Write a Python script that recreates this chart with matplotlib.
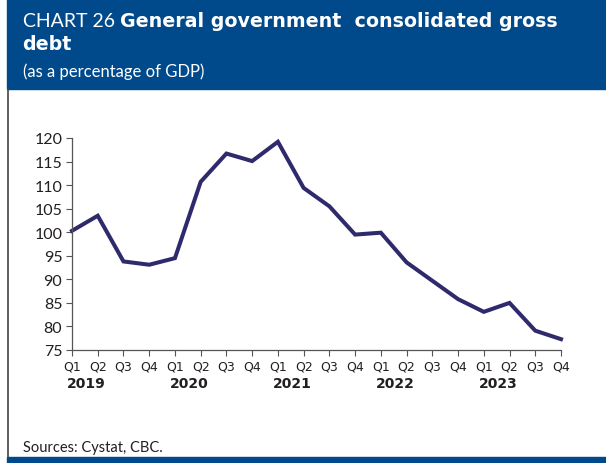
import matplotlib.pyplot as plt
import numpy as np
from matplotlib.patches import Rectangle

# general government consolidated gross debt, % of GDP, quarterly 2019-2023
years = ['2019', '2020', '2021', '2022', '2023']
quarters = ['Q1', 'Q2', 'Q3', 'Q4']
debt = [100.3, 103.5, 93.8, 93.1,
        94.5, 110.7, 116.7, 115.1,
        119.2, 109.4, 105.5, 99.5,
        99.9, 93.6, 89.7, 85.8,
        83.1, 85.0, 79.1, 77.3]
yticks = [75, 80, 85, 90, 95, 100, 105, 110, 115, 120]

blue = '#004a8c'
navy = '#2e2a6c'
grey = '#231f20'

fig = plt.figure(figsize=(6.06, 4.64), dpi=100)
W, H = 606, 464

# header band, frame line and bottom bar
fig.patches.append(Rectangle((7 / W, 1 - 90 / H), 1 - 7 / W, 90 / H,
                             transform=fig.transFigure, color=blue, zorder=0))
fig.patches.append(Rectangle((7 / W, 0), 1 - 7 / W, 6 / H,
                             transform=fig.transFigure, color=blue, zorder=0))
fig.lines.append(plt.Line2D([7.5 / W, 7.5 / W], [6 / H, 1 - 90 / H],
                            transform=fig.transFigure, color='#444444', lw=1.2))

body_font = 'Lato'
bold_font = 'DejaVu Sans'
t1 = fig.text(23 / W, 1 - 27 / H, 'CHART 26 ', color='white', fontsize=14,
              family=body_font, va='baseline')
fig.canvas.draw()
bb = t1.get_window_extent()
fig.text(bb.x1 / W, 1 - 27 / H, 'General government  consolidated gross',
         color='white', fontsize=13.7, fontweight='bold', family=bold_font,
         va='baseline')
fig.text(22 / W, 1 - 50 / H, 'debt', color='white', fontsize=13.7,
         fontweight='bold', family=bold_font, va='baseline')
fig.text(23 / W, 1 - 77 / H, '(as a percentage of GDP)', color='white',
         fontsize=12, family=body_font, va='baseline')

fig.text(23 / W, 1 - 452 / H, 'Sources: Cystat, CBC.', color=grey,
         fontsize=10.5, family=body_font, va='baseline')

ax = fig.add_axes([72 / W, 1 - 351 / H, (561 - 72) / W, (351 - 139) / H])
x = np.arange(len(debt))
ax.plot(x, debt, color=navy, lw=2.9, solid_joinstyle='miter', clip_on=False)

ax.set_xlim(0, len(debt) - 1)
ax.set_ylim(75, 120)
ax.set_yticks(yticks)
ax.set_yticklabels([str(v) for v in yticks], fontsize=11.5, family=body_font,
                   color=grey)
ax.set_xticks(x)
ax.set_xticklabels(quarters * len(years), fontsize=9,
                   family=['Liberation Sans Narrow', 'DejaVu Sans'], color=grey)
ax.tick_params(axis='both', direction='out', length=4, width=0.8,
               color='#555555', pad=3)
for s in ['top', 'right']:
    ax.spines[s].set_visible(False)
for s in ['left', 'bottom']:
    ax.spines[s].set_color('#555555')
    ax.spines[s].set_linewidth(0.9)

for i, yr in enumerate(years):
    ax.text(i * 4 - 0.2, -0.155, yr, transform=ax.get_xaxis_transform(),
            fontsize=10, fontweight='bold', family='DejaVu Sans', color=grey,
            ha='left', va='center')

fig.savefig('out.png', dpi=100)
